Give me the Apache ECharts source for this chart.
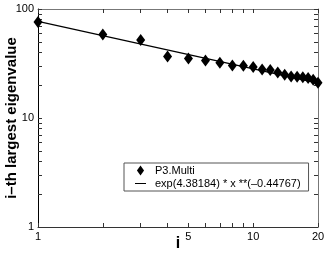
<!DOCTYPE html>
<html><head><meta charset="utf-8">
<script src="https://cdn.jsdelivr.net/npm/echarts@6/dist/echarts.min.js"></script>
<style>html,body{margin:0;padding:0;background:#fff}#c{width:327px;height:255px}</style>
</head><body><div id="c"></div>
<script>
const indices = [1,2,3,4,5,6,7,8,9,10,11,12,13,14,15,16,17,18,19,20];
const eigenvalues = [76.0,58.4,52.0,36.6,35.1,33.7,32.1,30.3,30.1,29.4,27.8,27.5,26.1,24.9,24.0,23.9,23.7,23.3,22.4,21.1];
const fitX = [1, 20];
const fitY = [77, 20.9];
const xTickLabels = [1, 5, 10, 20];
const xMinorTicks = [1,2,3,4,5,6,7,8,9,10,20];
const yTickLabels = [1, 10, 100];
const yMinorTicks = [1,2,3,4,5,6,7,8,9,10,20,30,40,50,60,70,80,90,100];
const seriesNames = ['P3.Multi', 'exp(4.38184) * x **(\u20130.44767)'];
const xTitle = 'i';
const yTitle = 'i\u2013th largest eigenvalue';

const FONT = '"Liberation Sans", Arial, Helvetica, sans-serif';
const lg = v => Math.log10(v);
const fmt = v => String(Math.round(Math.pow(10, v)));

const chart = echarts.init(document.getElementById('c'), null, {renderer: 'canvas'});
const xmax = lg(20), ymax = lg(100);

function frameAxis(pos, max, labels, ticks, lineColor, showLabels, extra) {
  return Object.assign({
    type: 'value', position: pos, min: 0, max: max,
    nameMoveOverlap: false,
    axisLine: {show: true, onZero: false, lineStyle: {color: lineColor, width: 1}},
    axisTick: {show: true, inside: true, length: 4, customValues: ticks.map(lg), lineStyle: {color: '#333', width: 1}},
    axisLabel: {show: showLabels, customValues: labels.map(lg), formatter: fmt, color: '#000', fontSize: 11, fontFamily: FONT, margin: 4},
    splitLine: {show: false}
  }, extra || {});
}

const option = {
  animation: false,
  backgroundColor: '#fff',
  grid: {left: 38, right: 9, top: 9, bottom: 28, containLabel: false, outerBoundsMode: 'none'},
  xAxis: [
    {type: 'log', logBase: 10, min: 1, max: 20, show: false},
    frameAxis('bottom', xmax, xTickLabels, xMinorTicks, '#333', true, {
      name: xTitle, nameLocation: 'middle', nameGap: 9,
      nameTextStyle: {fontSize: 16, fontWeight: 'bold', color: '#000', fontFamily: FONT, verticalAlign: 'top'}
    }),
    frameAxis('top', xmax, xTickLabels, xMinorTicks, '#777', false)
  ],
  yAxis: [
    {type: 'log', logBase: 10, min: 1, max: 100, show: false},
    frameAxis('left', ymax, yTickLabels, yMinorTicks, '#000', true, {
      name: yTitle, nameLocation: 'middle', nameGap: 19,
      nameTextStyle: {fontSize: 15, fontWeight: 'bold', color: '#000', fontFamily: FONT}
    }),
    frameAxis('right', ymax, yTickLabels, yMinorTicks, '#777', false)
  ],
  legend: {
    left: 124, top: 163, orient: 'vertical',
    borderColor: '#555', borderWidth: 1, padding: [2, 8, 2, 11],
    itemWidth: 11, itemHeight: 10, itemGap: 2,
    textStyle: {fontSize: 11, color: '#000', fontFamily: FONT, padding: [0,0,0,4]},
    data: [
      {name: seriesNames[0], icon: 'path://M5,0L10,7L5,14L0,7Z', itemStyle: {color: '#000'}},
      {name: seriesNames[1], icon: 'path://M0,0L11,0L11,1L0,1Z'}
    ]
  },
  series: [
    {
      name: seriesNames[1], type: 'line', xAxisIndex: 0, yAxisIndex: 0,
      data: fitX.map((x, i) => [x, fitY[i]]),
      symbol: 'none', lineStyle: {color: '#000', width: 1.2}, itemStyle: {color: '#000'}, z: 2
    },
    {
      name: seriesNames[0], type: 'scatter', xAxisIndex: 0, yAxisIndex: 0,
      data: indices.map((x, i) => [x, eigenvalues[i]]),
      symbol: 'diamond', symbolSize: [9, 12], itemStyle: {color: '#000', opacity: 1}, z: 3
    }
  ]
};
chart.setOption(option);
</script>
</body></html>
